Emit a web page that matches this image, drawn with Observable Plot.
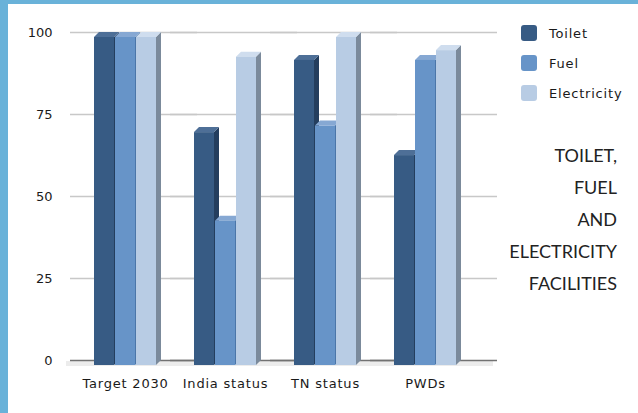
<!DOCTYPE html>
<html>
<head>
<meta charset="utf-8">
<script src="https://cdn.jsdelivr.net/npm/d3@7"></script>
<script src="https://cdn.jsdelivr.net/npm/@observablehq/plot@0.6"></script>
<style>
  html, body { margin: 0; padding: 0; background: #fff; }
  #frame {
    position: relative; width: 630px; height: 409px;
    border-left: 8px solid #69b2d9; border-top: 4px solid #69b2d9;
    background: #fff; overflow: hidden;
  }
  #chart { position: absolute; left: 0; top: 0; }
  #chart [aria-label="fx-axis tick label"] text,
  #chart [aria-label="fx-axis"] text { letter-spacing: 0.8px; }
  #legend {
    position: absolute; left: 513px; top: 21px;
    font: 13px "DejaVu Sans", sans-serif; letter-spacing: 0.8px; color: #1a1a1a;
  }
  .item { display: flex; align-items: center; height: 16px; margin-bottom: 14px; }
  .swatch { width: 16px; height: 16px; border-radius: 3px; margin-right: 12px; }
  #title {
    position: absolute; right: 21px; top: 135px; text-align: right;
    font: 18px Lato, sans-serif; line-height: 32px; color: #222;
  }
</style>
</head>
<body>
<div id="frame">
  <div id="chart"></div>
  <div id="legend"></div>
  <div id="title"></div>
</div>
<script>
// Share of households with each facility (%)
const categories = ["Target 2030", "India status", "TN status", "PWDs"];
const series = ["Toilet", "Fuel", "Electricity"];
const toilet = [100, 71, 93, 64];
const fuel = [100, 44, 73, 93];
const electricity = [100, 94, 100, 96];
const yTicks = [0, 25, 50, 75, 100];
const titleLines = ["TOILET,", "FUEL", "AND", "ELECTRICITY", "FACILITIES"];

// Face colours of the pseudo-3D columns: front, side, top
const frontColors = ["#375b84", "#6794c8", "#b8cce4"];
const sideColors = ["#243e5e", "#4b76a9", "#7b8a9b"];
const topColors = ["#4e6f97", "#86a8d3", "#cfddee"];

const valuesBySeries = [toilet, fuel, electricity];
const data = categories.flatMap((category, i) =>
  series.map((s, j) => ({category, series: s, value: valuesBySeries[j][i]}))
);

const DEPTH = 5;

// Draws each bar as a front face plus a right side and a top face.
function bars3d(index, scales, values) {
  const bw = typeof scales.x.bandwidth === "function" ? scales.x.bandwidth() : scales.x.bandwidth;
  const g = d3.create("svg:g");
  const order = Array.from(index).sort((a, b) => values.x[a] - values.x[b]);
  for (const i of order) {
    const k = series.indexOf(data[i].series);
    const x0 = values.x[i];
    const x1 = x0 + bw;
    const yb = Math.max(values.y1[i], values.y2[i]) + DEPTH;
    const yt = Math.min(values.y1[i], values.y2[i]) + DEPTH;
    const d = DEPTH;
    g.append("polygon")
      .attr("points", [[x1, yt], [x1 + d, yt - d], [x1 + d, yb - d], [x1, yb]].join(" "))
      .attr("fill", sideColors[k]);
    g.append("polygon")
      .attr("points", [[x0, yt], [x0 + d, yt - d], [x1 + d, yt - d], [x1, yt]].join(" "))
      .attr("fill", topColors[k]);
    g.append("rect")
      .attr("x", x0).attr("y", yt).attr("width", bw).attr("height", yb - yt)
      .attr("fill", values.fill ? values.fill[i] : frontColors[k]);
  }
  return g.node();
}

const chart = Plot.plot({
  width: 630,
  height: 409,
  marginTop: 28,
  marginBottom: 53,
  marginLeft: 67,
  marginRight: 163,
  style: {fontFamily: "DejaVu Sans, sans-serif", fontSize: "13px", color: "#1a1a1a", background: "transparent"},
  fx: {domain: categories, padding: 0, label: null, tickSize: 0, tickPadding: 18, axis: "bottom"},
  x: {domain: series, axis: null, paddingInner: 0.05, paddingOuter: 0.8},
  y: {domain: [0, 100], ticks: yTicks, tickSize: 0, tickPadding: 23, label: null},
  color: {domain: series, range: frontColors},
  marks: [
    Plot.ruleY(yTicks.filter((t) => t > 0), {stroke: "#c8c8c8", strokeWidth: 1.5, insetLeft: -5, insetRight: -22}),
    Plot.ruleY([0], {stroke: "#ececec", strokeWidth: 5, dy: 3, dx: -4, insetLeft: -5, insetRight: -22}),
    Plot.ruleY([0], {stroke: "#727272", strokeWidth: 1.5, insetLeft: -5, insetRight: -22}),
    Plot.barY(data, {fx: "category", x: "series", y: "value", fill: "series", render: bars3d})
  ]
});
document.getElementById("chart").append(chart);

const legend = d3.select("#legend");
series.forEach((s, k) => {
  const item = legend.append("div").attr("class", "item");
  item.append("div").attr("class", "swatch").style("background", frontColors[k]);
  item.append("span").text(s);
});

d3.select("#title").selectAll("div").data(titleLines).join("div").text((d) => d);
</script>
</body>
</html>
